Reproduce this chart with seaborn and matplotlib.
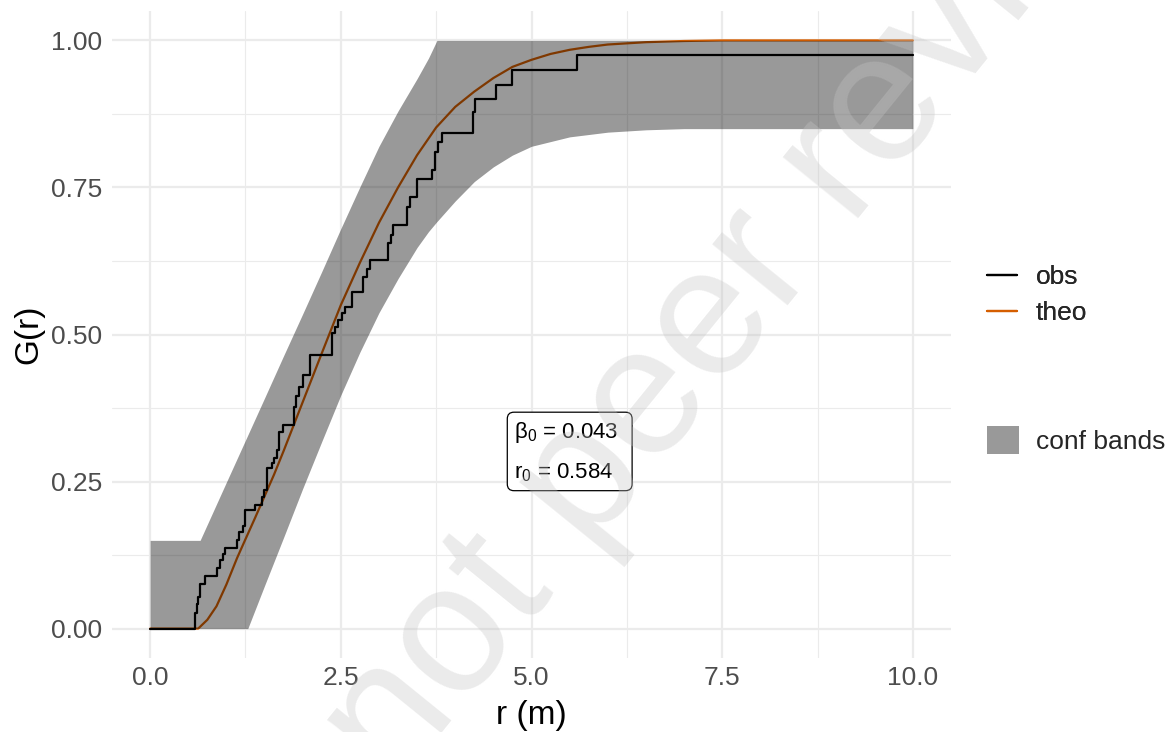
import numpy as np
import pandas as pd
import matplotlib.pyplot as plt
import seaborn as sns
from matplotlib.lines import Line2D
from matplotlib.patches import Patch
from matplotlib.ticker import MultipleLocator

obs_r = [0, 0.583, 0.616, 0.633, 0.66, 0.721, 0.882, 0.917, 0.961, 0.983, 1.136, 1.166,
         1.223, 1.245, 1.376, 1.472, 1.498, 1.537, 1.595, 1.625, 1.66, 1.695, 1.747,
         1.891, 1.913, 1.957, 2.009, 2.097, 2.381, 2.425, 2.468, 2.512, 2.556, 2.643,
         2.796, 2.848, 2.883, 3.123, 3.154, 3.18, 3.372, 3.407, 3.495, 3.692, 3.735,
         3.779, 3.827, 4.229, 4.259, 4.535, 4.74, 5.592, 10]
obs_g = [0, 0.027, 0.041, 0.053, 0.075, 0.09, 0.103, 0.117, 0.126, 0.137, 0.151, 0.165,
         0.175, 0.202, 0.21, 0.224, 0.235, 0.273, 0.281, 0.29, 0.304, 0.335, 0.346,
         0.377, 0.395, 0.411, 0.431, 0.465, 0.502, 0.513, 0.525, 0.536, 0.547, 0.573,
         0.598, 0.612, 0.626, 0.655, 0.67, 0.686, 0.717, 0.733, 0.764, 0.78, 0.81,
         0.828, 0.843, 0.878, 0.9, 0.925, 0.95, 0.976, 0.976]

# theoretical curve
theo_r = [0, 0.63, 0.75, 0.87, 1.0, 1.14, 1.25, 1.375, 1.5, 1.625, 1.75, 2.0, 2.25,
          2.5, 2.75, 3.0, 3.25, 3.5, 3.75, 4.0, 4.25, 4.5, 4.75, 5.0, 5.25, 5.5, 5.75,
          6.0, 6.5, 7.0, 7.5, 10]
theo_g = [0, 0, 0.015, 0.038, 0.075, 0.12, 0.152, 0.188, 0.225, 0.262, 0.302, 0.385,
          0.468, 0.55, 0.622, 0.69, 0.75, 0.805, 0.852, 0.887, 0.913, 0.936, 0.955,
          0.967, 0.977, 0.984, 0.989, 0.993, 0.997, 0.999, 1.0, 1.0]

# envelope
band_r = [0, 0.655, 1.0, 1.28, 1.5, 1.75, 2.0, 2.25, 2.5, 2.75, 3.0, 3.25, 3.5, 3.65,
          3.76, 4.0, 4.25, 4.5, 4.75, 5.0, 5.5, 6.0, 6.5, 7.0, 10]
band_lo = [0, 0, 0, 0, 0.073, 0.155, 0.238, 0.318, 0.397, 0.47, 0.537, 0.595, 0.648,
           0.675, 0.692, 0.727, 0.76, 0.785, 0.805, 0.82, 0.836, 0.844, 0.848, 0.85,
           0.85]
band_hi = [0.15, 0.15, 0.249, 0.329, 0.392, 0.464, 0.535, 0.607, 0.68, 0.751, 0.82,
           0.88, 0.935, 0.97, 1.0, 1.0, 1.0, 1.0, 1.0, 1.0, 1.0, 1.0, 1.0, 1.0, 1.0]

beta0 = 0.043
r0 = 0.584

sns.set_theme(style="whitegrid")
plt.rcParams["font.family"] = ["Liberation Sans", "DejaVu Sans"]
plt.rcParams["mathtext.fontset"] = "custom"
plt.rcParams["mathtext.rm"] = "Liberation Sans"

theo_col = "#D55E00"
grid_col = "#ebebeb"

fig = plt.figure(figsize=(11.72, 7.32), dpi=100)
ax = fig.add_axes([112 / 1172, 1 - 658 / 732, (951 - 112) / 1172, (658 - 11) / 732])

obs_df = pd.DataFrame({"r": obs_r, "G": obs_g})
theo_df = pd.DataFrame({"r": theo_r, "G": theo_g})

sns.lineplot(data=theo_df, x="r", y="G", color=theo_col, lw=1.6, estimator=None,
             ax=ax, zorder=2)
sns.lineplot(data=obs_df, x="r", y="G", color="black", lw=1.6, estimator=None,
             drawstyle="steps-post", ax=ax, zorder=2)
ax.fill_between(band_r, band_lo, band_hi, color="black", alpha=0.4, lw=0, zorder=3)

label = f"β$_0$ = {beta0:.3f}  \nr$_0$ = {r0:.3f}  "
ax.text(4.77, 0.30, label, ha="left", va="center", fontsize=16, linespacing=1.95,
        color="black", zorder=4,
        bbox=dict(boxstyle="round,pad=0.3,rounding_size=0.3", fc="white", ec="black", lw=0.9))

ax.set_xlim(-0.5, 10.5)
ax.set_ylim(-0.05, 1.05)
ax.xaxis.set_major_locator(MultipleLocator(2.5))
ax.xaxis.set_minor_locator(MultipleLocator(1.25))
ax.yaxis.set_major_locator(MultipleLocator(0.25))
ax.yaxis.set_minor_locator(MultipleLocator(0.125))
ax.xaxis.set_major_formatter(lambda v, p: f"{v:.1f}")
ax.yaxis.set_major_formatter(lambda v, p: f"{v:.2f}")
ax.grid(which="major", color=grid_col, lw=1.6)
ax.grid(which="minor", color=grid_col, lw=0.8)
ax.set_axisbelow(True)
for s in ax.spines.values():
    s.set_visible(False)
ax.set_facecolor("white")
ax.tick_params(which="both", length=0, labelsize=19, labelcolor="#4d4d4d")
ax.tick_params(axis="x", pad=6)
ax.tick_params(axis="y", pad=7)
ax.set_xlabel("r (m)", fontsize=24, color="black", labelpad=7)
ax.set_ylabel("G(r)", fontsize=24, color="black", labelpad=5)

leg1 = fig.legend(handles=[Line2D([], [], color="black", lw=1.6),
                           Line2D([], [], color=theo_col, lw=1.6)],
                  labels=["obs", "theo"], loc="center left",
                  bbox_to_anchor=(987 / 1172, 1 - 295 / 732), frameon=False,
                  fontsize=19, handlelength=1.15, handletextpad=0.7,
                  labelspacing=0.45, borderpad=0, borderaxespad=0)
leg2 = fig.legend(handles=[Patch(facecolor="black", alpha=0.4, lw=0)],
                  labels=["conf bands"], loc="center left",
                  bbox_to_anchor=(987 / 1172, 1 - 440 / 732), frameon=False,
                  fontsize=19, handlelength=1.2, handleheight=1.25,
                  handletextpad=0.65, borderpad=0, borderaxespad=0)
fig.add_artist(leg1)

# watermark
fig.text(395 / 1172, 1 - 790 / 732, "not peer reviewed", rotation=51,
         rotation_mode="anchor", ha="left", va="baseline", fontsize=132,
         color="#c5c5c5", alpha=0.35, zorder=10)

fig.savefig("out.png", dpi=100)
